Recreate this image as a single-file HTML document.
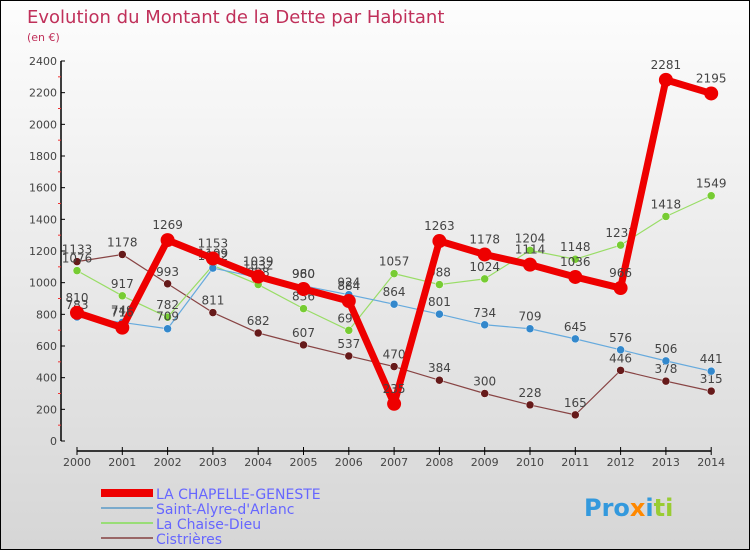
<!DOCTYPE html>
<html><head><meta charset="utf-8"><style>
body{margin:0}
#c{position:relative;width:748px;height:548px;border:1px solid #000;background:linear-gradient(#fdfdfd,#d6d6d6);font-family:"DejaVu Sans","Liberation Sans",sans-serif;overflow:hidden}
</style></head><body>
<div id="c">
<svg id="s" width="748" height="548">
<text x="26" y="22" font-size="18" fill="#c0305a" font-family="DejaVu Sans,sans-serif">Evolution du Montant de la Dette par Habitant</text>
<text x="26" y="40" font-size="11" fill="#c0305a">(en €)</text>
<g id="axes"></g><g id="series"></g>
<g>
<rect x="100" y="488" width="52" height="8" fill="#ee0000"/>
<text x="155" y="498" font-size="14" fill="#6666ff">LA CHAPELLE-GENESTE</text>
<rect x="100" y="506" width="52" height="2" fill="#7aaacc"/>
<text x="155" y="513" font-size="14" fill="#6666ff">Saint-Alyre-d'Arlanc</text>
<rect x="100" y="521" width="52" height="2" fill="#99dd77"/>
<text x="155" y="528" font-size="14" fill="#6666ff">La Chaise-Dieu</text>
<rect x="100" y="536" width="52" height="2" fill="#996666"/>
<text x="155" y="543" font-size="14" fill="#6666ff">Cistrières</text>
</g>
<text x="583" y="515" font-size="24" font-weight="bold"><tspan fill="#3399dd">Pro</tspan><tspan fill="#ff8800">x</tspan><tspan fill="#3399dd">i</tspan><tspan fill="#99cc33">ti</tspan></text>
</svg>
</div>
<script>
const years=[2000,2001,2002,2003,2004,2005,2006,2007,2008,2009,2010,2011,2012,2013,2014];
const yTicks=[0,200,400,600,800,1000,1200,1400,1600,1800,2000,2200,2400];
const chapelle=[810,716,1269,1153,1039,960,884,235,1263,1178,1114,1036,966,2281,2195];
const alyre=[783,749,709,1092,1032,980,924,864,801,734,709,645,576,506,441];
const chaise=[1076,917,782,1109,988,836,699,1057,988,1024,1204,1148,1237,1418,1549];
const cistr=[1133,1178,993,811,682,607,537,470,384,300,228,165,446,378,315];
const NS="http://www.w3.org/2000/svg";
function xS(i){return 76+i*45.3;}
function yS(v){return 440-v*380/2400;}
function mk(p,t,a){const e=document.createElementNS(NS,t);for(const k in a)e.setAttribute(k,a[k]);p.appendChild(e);return e;}
const ax=document.getElementById('axes');
let l=mk(ax,'line',{x1:60,y1:60,x2:60,y2:440,stroke:'#000','stroke-width':1.5});


yTicks.forEach(v=>{
 mk(ax,'line',{x1:60,y1:yS(v),x2:64,y2:yS(v),stroke:'#000'});
 mk(ax,'line',{x1:57,y1:yS(v+100),x2:60,y2:yS(v+100),stroke:v<2400?'#e33':'none'});
 const t=mk(ax,'text',{x:56,y:yS(v)+4,'font-size':11,fill:'#444','text-anchor':'end'});t.textContent=v;
 
 
});
l=mk(ax,'line',{x1:xS(0),y1:450,x2:xS(14),y2:450,stroke:'#000','stroke-width':1.5});


years.forEach((y,i)=>{
 mk(ax,'line',{x1:xS(i),y1:446,x2:xS(i),y2:454,stroke:'#000'});
 const t=mk(ax,'text',{x:xS(i),y:465,'font-size':11,fill:'#444','text-anchor':'middle'});t.textContent=y;
 
 
});
const sg=document.getElementById('series');
function draw(vals,color,dot,w,r,name){
 const g=mk(sg,'g',{});
 
 
 mk(g,'polyline',{points:vals.map((v,i)=>xS(i)+','+yS(v)).join(' '),fill:'none',stroke:color,'stroke-width':w,'stroke-linejoin':'round'});
 vals.forEach((v,i)=>{
  const c=mk(g,'circle',{cx:xS(i),cy:yS(v),r:r,fill:dot,stroke:'#fff','stroke-width':r>5?0:0.5});
  
  
  const t=mk(g,'text',{x:xS(i),y:yS(v)-8-(r>5?3:0),'font-size':12,fill:'#444','text-anchor':'middle'});t.textContent=v;
  
  
 });
}
draw(cistr,'#884444','#661a1a',1.2,4,'series-cistrieres');
draw(chaise,'#99dd66','#77cc33',1.2,4,'series-chaise-dieu');
draw(alyre,'#66aadd','#3388cc',1.2,4,'series-saint-alyre');
draw(chapelle,'#ee0000','#ee0000',7,7,'series-chapelle');
</script>
</body></html>
